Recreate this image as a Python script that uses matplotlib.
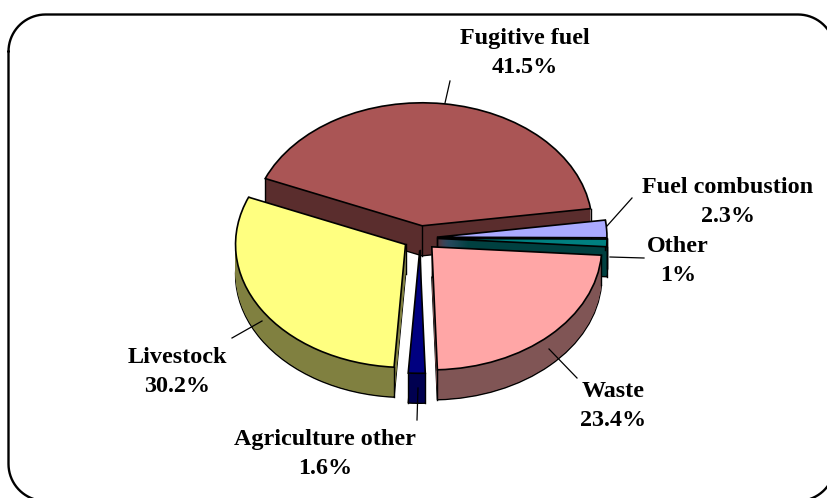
import matplotlib
matplotlib.use('Agg')
import numpy as np
import matplotlib.pyplot as plt

# slices, counter clockwise starting from the fugitive fuel one
categories = ['Fugitive fuel', 'Livestock', 'Agriculture other', 'Waste', 'Other', 'Fuel combustion']
values = [41.5, 30.2, 1.6, 23.4, 1.0, 2.3]
value_labels = ['41.5%', '30.2%', '1.6%', '23.4%', '1%', '2.3%']
top_colors = ['#AA5555', '#FFFF80', '#000080', '#FFA6A6', '#008080', '#AAAAFF']
side_colors = ['#5A2D2D', '#808040', '#000050', '#805555', '#004040', '#555580']

W, H = 827, 498
cx, cy = 420, 238    # pie centre in pixels
rx, ry = 170, 123    # ellipse radii in pixels
depth = 30
start = 8

fig = plt.figure(figsize=(W/100, H/100), dpi=100)

# pie axes: one data unit is rx pixels wide and ry pixels high
ax = fig.add_axes([0, 0, 1, 1])
explode = [0.1]*len(values)

# stack of darker pies gives the side walls
for d in range(depth, 0, -1):
    edge = 'black' if d == depth else 'none'
    lw = 1.0 if d == depth else 0
    ax.pie(values, explode=explode, colors=side_colors, startangle=start, counterclock=True,
           center=(0, -d/ry), radius=1, normalize=True,
           wedgeprops={'edgecolor': edge, 'linewidth': lw})
wedges, _ = ax.pie(values, explode=explode, colors=top_colors, startangle=start, counterclock=True,
                   center=(0, 0), radius=1, normalize=True,
                   wedgeprops={'edgecolor': 'black', 'linewidth': 1.2, 'zorder': 3})

# vertical edges of the side walls, the top faces hide the ones at the back
for w in wedges:
    x0, y0 = w.center
    for a in (w.theta1, w.theta2):
        xe = x0 + w.r*np.cos(np.radians(a))
        ye = y0 + w.r*np.sin(np.radians(a))
        ax.plot([xe, xe], [ye, ye - depth/ry], color='black', lw=1.0, zorder=2)
    ax.plot([x0, x0], [y0, y0 - depth/ry], color='black', lw=1.0, zorder=2)

ax.set_aspect('auto')
ax.set_xlim(-cx/rx, (W-cx)/rx)
ax.set_ylim(-(H-cy)/ry, cy/ry)
ax.axis('off')

# overlay in pixel coordinates for frame, labels and leader lines
ov = fig.add_axes([0, 0, 1, 1])
ov.axis('off')
ov.patch.set_alpha(0)

# rounded frame, runs off the right and bottom of the picture
left, top, right, bottom, r = 8.5, 14.5, 835, 501, 37
arc = np.linspace(0, np.pi/2, 20)
fx = np.r_[left + r*(1 - np.cos(arc)), right - r*(1 - np.sin(arc)),
           right - r*(1 - np.cos(arc)), left + r*(1 - np.sin(arc)), left]
fy = np.r_[top + r*(1 - np.sin(arc)), top + r*(1 - np.cos(arc)),
           bottom - r*(1 - np.sin(arc)), bottom - r*(1 - np.cos(arc)), top + r]
ov.plot(fx, fy, color='black', lw=1.7, solid_capstyle='round', solid_joinstyle='round')

label_pos = [(525, 53), (177, 372), (325, 454), (613, 406), (678, 261), (728, 202)]
for name, val, (x, y) in zip(categories, value_labels, label_pos):
    ov.text(x, y, name + '\n' + val, ha='center', va='center', fontsize=17.4,
            family='Liberation Serif', fontweight='bold', color='black', linespacing=1.5)

leaders = [((450, 81), (445, 103)), ((232, 338), (262, 321)), ((417, 420), (418, 388)),
           ((577, 378), (549, 349)), ((644, 258), (610, 257)), ((632, 198), (607, 226))]
for (x0, y0), (x1, y1) in leaders:
    ov.plot([x0, x1], [y0, y1], color='black', lw=0.9)

ov.set_xlim(0, W)
ov.set_ylim(H, 0)
fig.savefig('out.png', dpi=100)
